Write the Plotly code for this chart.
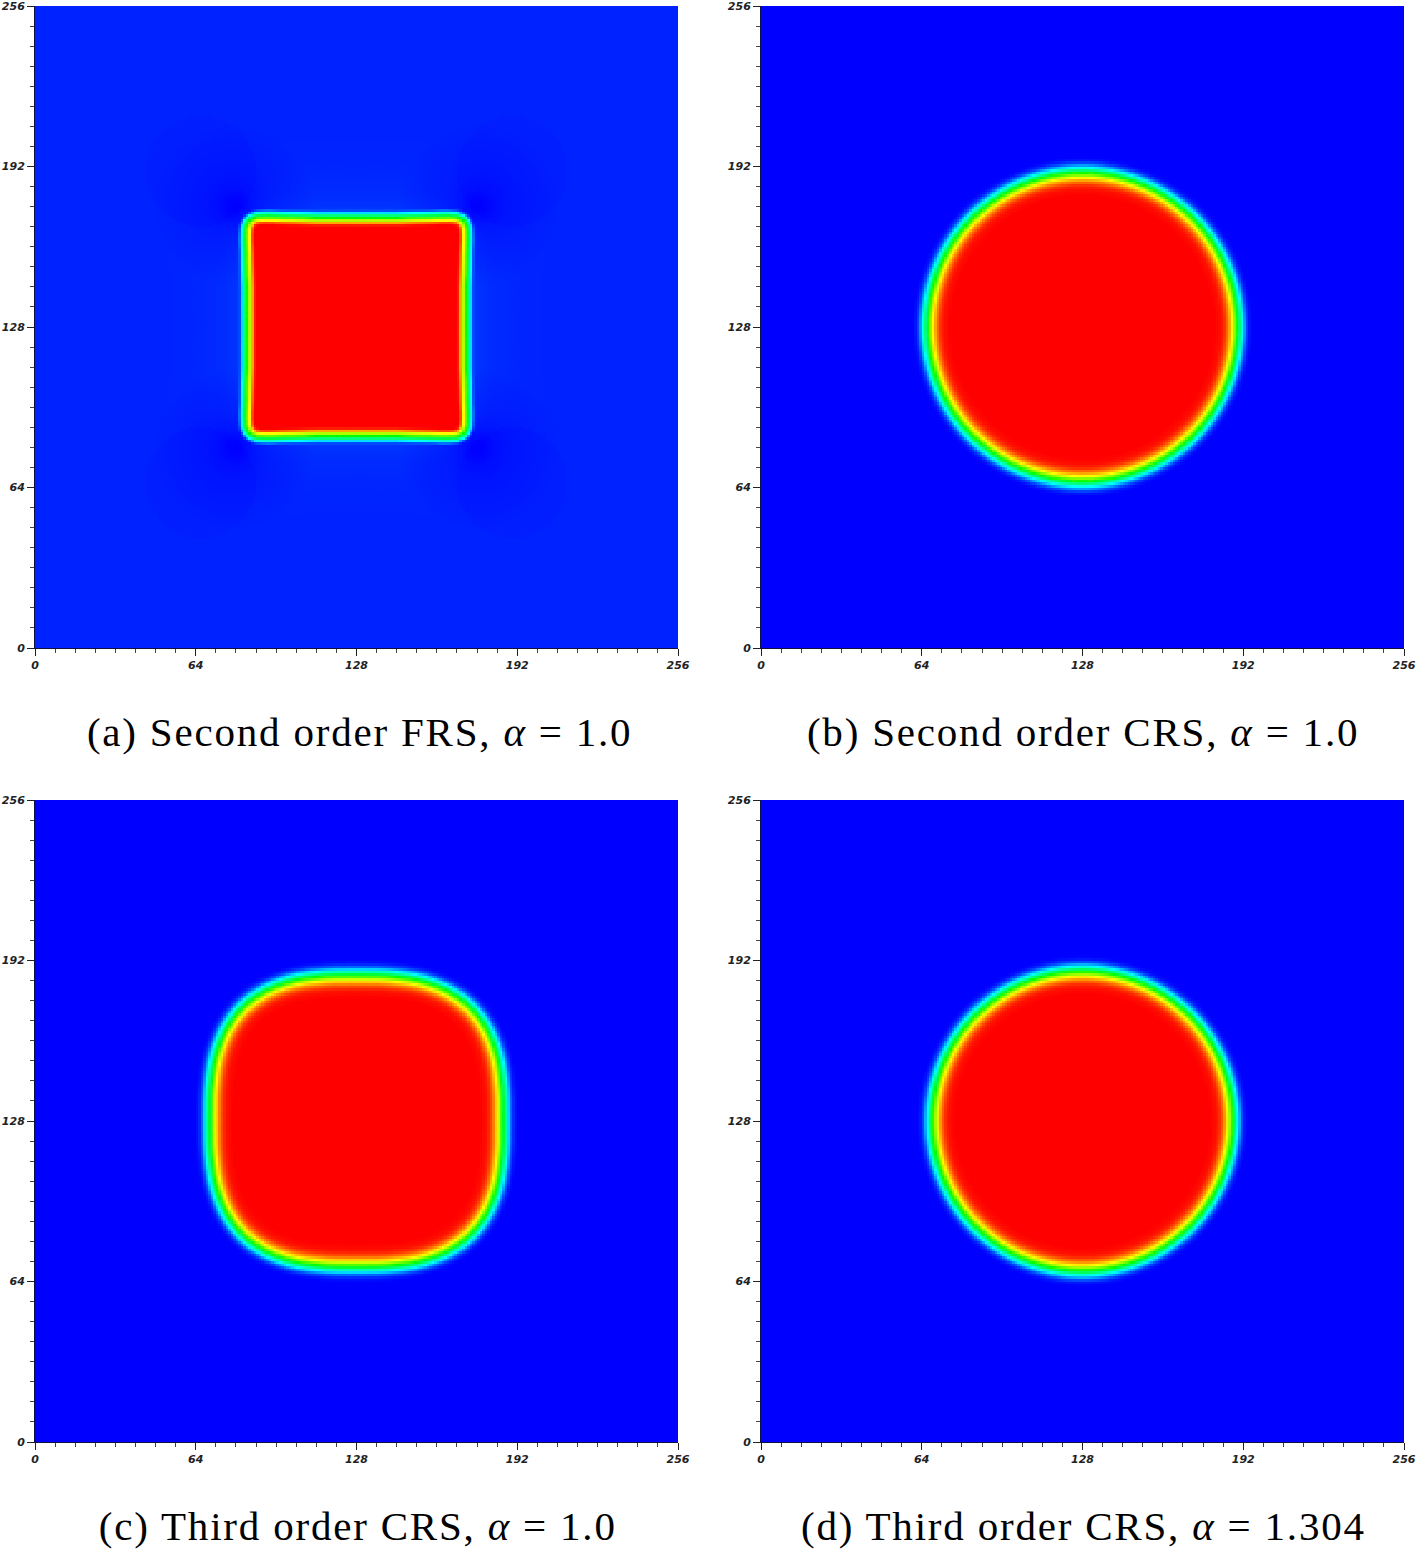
import numpy as np
import plotly.graph_objects as go

# --- values -----------------------------------------------------------------
captions = ["(a) Second order FRS, <i>α</i> = 1.0", "(b) Second order CRS, <i>α</i> = 1.0",
            "(c) Third order CRS, <i>α</i> = 1.0", "(d) Third order CRS, <i>α</i> = 1.304"]
major_ticks = [0, 64, 128, 192, 256]
minor_ticks = list(range(0, 257, 8))

# mid-level (green) contour, one octant: radius against angle
angle_a = [0, 10, 20, 30, 35, 38, 40, 42, 43.5, 45]
radius_a = [43.4, 44.1, 46.2, 50.45, 53.5, 55.8, 57.4, 59.0, 59.7, 60.0]
angle_bd = [0, 45]
radius_b = [61.6, 61.6]
radius_d = [59.8, 59.8]
angle_c = [0, 5, 10, 15, 20, 25, 30, 35, 40, 45]
radius_c = [58.1, 58.3, 58.9, 59.6, 60.6, 61.6, 62.5, 63.3, 63.8, 64.0]

# level against signed distance from that contour
dist_wide = [-9, -6.5, -5, -3.5, -2, 0, 2, 3.6, 4.8, 6]
level_wide = [1.0, 0.985, 0.95, 0.87, 0.75, 0.5, 0.25, 0.08, 0.02, 0.0]
dist_sharp = [-3.4, -2.6, -1.5, 0, 1.7, 2.7, 3.4]
level_sharp = [1.0, 0.95, 0.75, 0.5, 0.25, 0.05, 0.0]

# faint background of panel (a)
bg_base = 0.033
halo_dist = [0, 4, 10, 20, 35]
halo_level = [0.022, 0.018, 0.009, 0.003, 0.0]
spot_pos = [80, 176]
spot_dist = [0, 4, 8, 14, 22, 32]
spot_factor = [0.0, 0.2, 0.45, 0.65, 0.8, 1.0]
ring_pos = [66, 190]
ring_radius = 22
ring_drop = 0.004

colors = [[0, "rgb(0,0,255)"], [0.25, "rgb(0,255,255)"], [0.5, "rgb(0,255,0)"],
          [0.75, "rgb(255,255,0)"], [1, "rgb(255,0,0)"]]
# -----------------------------------------------------------------------------

cells = np.arange(256) + 0.5
X, Y = np.meshgrid(cells - 128, cells - 128)


def contour_radius(deg, angles, radii, sharp):
    fold = np.abs(((deg + 45) % 90) - 45)
    if sharp:  # straight-sided contour: follow the side, not the chord of the radius
        c = np.cos(np.radians(fold))
        side = np.array(radii) * np.cos(np.radians(angles))
        return np.interp(fold, angles, side) / c
    return np.interp(fold, angles, radii)


def signed_distance(angles, radii, sharp=False):
    deg = np.arange(0, 360, 0.5)
    r = contour_radius(deg, angles, radii, sharp)
    px, py = r * np.cos(np.radians(deg)), r * np.sin(np.radians(deg))
    d = np.zeros_like(X)
    for i in range(X.shape[0]):
        d[i] = np.sqrt((X[i, :, None] - px) ** 2 + (Y[i, :, None] - py) ** 2).min(axis=1)
    inside = np.hypot(X, Y) < contour_radius(np.degrees(np.arctan2(Y, X)), angles, radii, sharp)
    return np.where(inside, -d, d)


def field_a():
    d = signed_distance(angle_a, radius_a, True)
    core = np.interp(d, dist_sharp, level_sharp)
    gx, gy = cells[None, :], cells[:, None]
    near = np.min([np.hypot(gx - a, gy - b) for a in spot_pos for b in spot_pos], axis=0)
    factor = np.interp(near, spot_dist, spot_factor)
    bg = (bg_base + np.interp(np.maximum(d, 0), halo_dist, halo_level)) * factor
    for a in ring_pos:
        for b in ring_pos:
            bg = bg - ring_drop * (np.hypot(gx - a, gy - b) < ring_radius)
    return core + np.clip(bg, 0, 1) * (1 - core)


def field(angles, radii):
    return np.interp(signed_distance(angles, radii), dist_wide, level_wide)


fields = [field_a(), field(angle_bd, radius_b), field(angle_c, radius_c), field(angle_bd, radius_d)]

W, H = 1418, 1549
boxes = [(35, 678, 6, 648), (761, 1404, 6, 648), (35, 678, 800, 1442), (761, 1404, 800, 1442)]
caption_pos = [(359, 732), (1083, 732), (358, 1526), (1083.5, 1526)]

fig = go.Figure()
layout = dict(width=W, height=H, margin=dict(l=0, r=0, t=0, b=0, autoexpand=False), showlegend=False,
              paper_bgcolor="white", plot_bgcolor="white", annotations=[])


def axis(domain, anchor):
    return dict(domain=domain, anchor=anchor, range=[0, 256], tickmode="array", tickvals=major_ticks,
                ticktext=[str(v) for v in major_ticks], ticks="outside", ticklen=7, tickwidth=1,
                tickcolor="#222222", showline=True, linecolor="#101040", linewidth=1, showgrid=False,
                zeroline=False, tickangle=0, automargin=False,
                tickfont=dict(family="DejaVu Sans", size=11, color="#222222", weight="bold", style="italic"),
                minor=dict(tickmode="array", tickvals=minor_ticks, ticks="outside", ticklen=4,
                           tickwidth=1, tickcolor="#444444", showgrid=False))


for i, (z, box) in enumerate(zip(fields, boxes)):
    n = "" if i == 0 else str(i + 1)
    fig.add_trace(go.Heatmap(x=cells, y=cells, z=z, zmin=0, zmax=1, colorscale=colors, showscale=False,
                             xaxis="x" + n, yaxis="y" + n, hoverinfo="skip"))
    layout["xaxis" + n] = axis([box[0] / W, box[1] / W], "y" + n)
    layout["yaxis" + n] = axis([1 - box[3] / H, 1 - box[2] / H], "x" + n)
    layout["annotations"].append(dict(text=captions[i], xref="paper", yref="paper",
                                      x=caption_pos[i][0] / W, y=1 - caption_pos[i][1] / H,
                                      xanchor="center", yanchor="middle", showarrow=False,
                                      font=dict(family="Liberation Serif", size=41, color="black")))
fig.update_layout(**layout)
fig.write_html("out.html", config={"displayModeBar": False},
               post_script="document.body.style.margin='0';document.body.style.overflow='hidden';"
                           "document.querySelectorAll('.annotation-text').forEach(function(e){e.style.letterSpacing='1.8px';});")
